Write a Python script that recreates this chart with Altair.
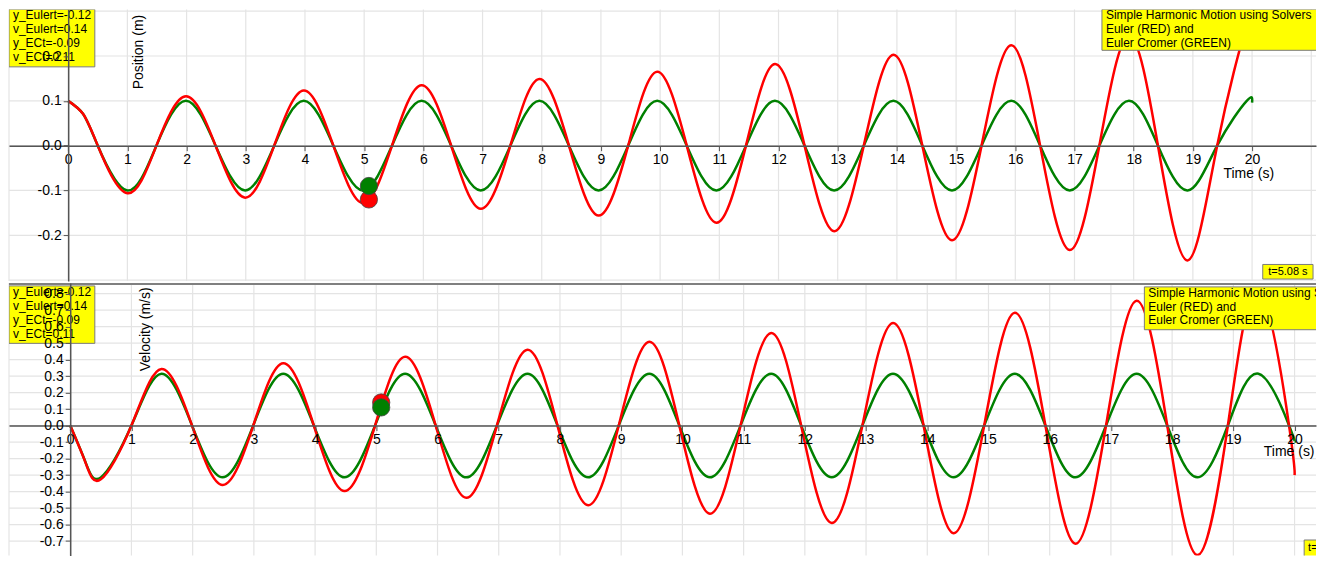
import altair as alt
import pandas as pd

# ---------------- data ----------------
# time nodes (s): extrema / zero crossings of the curves (plus one early point)
t_nodes = [0.00, 0.25, 0.50, 1.00, 1.49, 1.99, 2.49, 2.99, 3.48, 3.98, 4.48,
           4.98, 5.47, 5.97, 6.47, 6.97, 7.47, 7.96, 8.46, 8.96, 9.46,
           9.95, 10.45, 10.95, 11.45, 11.94, 12.44, 12.94, 13.44, 13.94, 14.43,
           14.93, 15.43, 15.93, 16.42, 16.92, 17.42, 17.92, 18.41, 18.91, 19.41,
           19.91, 20.00]

# position (m)
y_ec = [0.100, 0.071, 0.0, -0.100, 0.0, 0.100, 0.0, -0.100, 0.0, 0.100, 0.0,
        -0.100, 0.0, 0.100, 0.0, -0.100, 0.0, 0.100, 0.0, -0.100, 0.0,
        0.100, 0.0, -0.100, 0.0, 0.100, 0.0, -0.100, 0.0, 0.100, 0.0,
        -0.100, 0.0, 0.100, 0.0, -0.100, 0.0, 0.100, 0.0, -0.100, 0.0,
        0.100, 0.096]
y_eu = [0.100, 0.071, 0.0, -0.106, 0.0, 0.110, 0.0, -0.116, 0.0, 0.123, 0.0,
        -0.128, 0.0, 0.135, 0.0, -0.141, 0.0, 0.149, 0.0, -0.156, 0.0,
        0.165, 0.0, -0.172, 0.0, 0.182, 0.0, -0.191, 0.0, 0.203, 0.0,
        -0.211, 0.0, 0.224, 0.0, -0.233, 0.0, 0.245, 0.0, -0.256, 0.0,
        0.268, 0.262]

# velocity (m/s)
v_ec = [0.0, -0.222, -0.314, 0.0, 0.314, 0.0, -0.314, 0.0, 0.314, 0.0, -0.314,
        0.0, 0.314, 0.0, -0.314, 0.0, 0.314, 0.0, -0.314, 0.0, 0.314,
        0.0, -0.314, 0.0, 0.314, 0.0, -0.314, 0.0, 0.314, 0.0, -0.314,
        0.0, 0.314, 0.0, -0.314, 0.0, 0.314, 0.0, -0.314, 0.0, 0.314,
        0.0, -0.10]
v_eu = [0.0, -0.225, -0.326, 0.0, 0.343, 0.0, -0.360, 0.0, 0.378, 0.0, -0.397,
        0.0, 0.417, 0.0, -0.438, 0.0, 0.460, 0.0, -0.483, 0.0, 0.508,
        0.0, -0.534, 0.0, 0.561, 0.0, -0.590, 0.0, 0.621, 0.0, -0.652,
        0.0, 0.683, 0.0, -0.716, 0.0, 0.757, 0.0, -0.785, 0.0, 0.820,
        0.0, -0.30]

# current state markers at t = 5.08 s
dot_t = [5.08, 5.08]
dot_series = ["Euler", "Euler Cromer"]
dot_pos = [-0.12, -0.09]
dot_vel = [0.14, 0.11]

# texts
info_lines = ["y_Eulert=-0.12", "v_Eulert=0.14", "y_ECt=-0.09", "v_ECt=0.11"]
title_lines = ["Simple Harmonic Motion using Solvers", "Euler (RED) and", "Euler Cromer (GREEN)"]
time_label = "t=5.08 s"

# ticks
x_ticks_top = list(range(-1, 22))
x_ticks_bot = list(range(-1, 21))
x_labels = list(range(0, 21))
y_grid_top = [-0.3, -0.2, -0.1, 0.0, 0.1, 0.2, 0.3]
y_labels_top = [-0.2, -0.1, 0.0, 0.1, 0.2]
y_grid_bot = [-0.7, -0.6, -0.5, -0.4, -0.3, -0.2, -0.1, 0.0, 0.1, 0.2, 0.3, 0.4, 0.5, 0.6, 0.7, 0.8]
y_labels_bot = y_grid_bot

# ---------------- layout ----------------
W = 1309
H1, H2 = 272, 273
SX = W / 1325
SY1 = H1 / 279
SY2 = H2 / 280
FONT = "Liberation Sans"
RED, GREEN = "#ff0000", "#008000"
ONE = pd.DataFrame({"a": [0]})
LABEL_EXPR = "replace(format(datum.value, '.1f'), '\u2212', '-')"


def box(x0, x1, y0, y1):
    return alt.Chart(ONE).mark_rect(fill="#ffff00", stroke="#7a7a7a", strokeWidth=1, clip=True).encode(
        x=alt.value(x0), x2=alt.value(x1), y=alt.value(y0), y2=alt.value(y1))


def label(lines, x, y, align="left", baseline="top", size=12, lh=13.8):
    return alt.Chart(ONE).mark_text(text=lines, align=align, baseline=baseline, fontSize=size,
                                    lineHeight=lh, font=FONT, color="black", clip=True).encode(
        x=alt.value(x), y=alt.value(y))


def panel(values_ec, values_eu, dots_vals, xdom, ydom, H, sy, ref_top, xgrid, ygrid, ylabels,
          ytitle, ytitle_ref_x, ytitle_ref_y, xtitle_ref_right, xtitle_ref_y, zero_ref_y):
    xs = alt.Scale(domain=xdom, nice=False, zero=False)
    ys = alt.Scale(domain=ydom, nice=False, zero=False)
    x0px = (0 - xdom[0]) / (xdom[1] - xdom[0]) * W
    y0px = (ydom[1] - 0) / (ydom[1] - ydom[0]) * H

    xaxis = alt.Axis(values=x_labels, orient="bottom", offset=-(H - y0px), grid=False,
                     title="Time (s)", titleX=xtitle_ref_right * SX, titleY=(xtitle_ref_y - zero_ref_y) * sy,
                     titleAlign="right", titleBaseline="middle", titleAngle=0, zindex=1, labelFlush=False)
    yaxis = alt.Axis(values=ylabels, orient="left", offset=-x0px, grid=False, labelExpr=LABEL_EXPR,
                     title=ytitle, titleX=ytitle_ref_x * SX - x0px, titleY=(ytitle_ref_y - ref_top) * sy,
                     titleAngle=270, titleAlign="right", titleBaseline="middle", zindex=1)

    gx = alt.Chart(pd.DataFrame({"t": xgrid})).mark_rule(color="#e4e4e4", strokeWidth=1.2).encode(
        x=alt.X("t:Q", scale=xs, axis=xaxis))
    gy = alt.Chart(pd.DataFrame({"v": ygrid})).mark_rule(color="#e4e4e4", strokeWidth=1.2).encode(
        y=alt.Y("v:Q", scale=ys, axis=yaxis))

    green = alt.Chart(pd.DataFrame({"t": t_nodes, "v": values_ec})).mark_line(
        color=GREEN, strokeWidth=2.5, interpolate="natural", clip=True).encode(
        x=alt.X("t:Q", scale=xs, axis=xaxis), y=alt.Y("v:Q", scale=ys, axis=yaxis))
    red = alt.Chart(pd.DataFrame({"t": t_nodes, "v": values_eu})).mark_line(
        color=RED, strokeWidth=2.5, interpolate="natural", clip=True).encode(
        x=alt.X("t:Q", scale=xs, axis=xaxis), y=alt.Y("v:Q", scale=ys, axis=yaxis))
    dots = alt.Chart(pd.DataFrame({"t": dot_t, "v": dots_vals, "s": dot_series})).mark_circle(
        size=300, opacity=1, stroke="#444", strokeWidth=0.8).encode(
        x=alt.X("t:Q", scale=xs, axis=xaxis), y=alt.Y("v:Q", scale=ys, axis=yaxis),
        color=alt.Color("s:N", scale=alt.Scale(domain=["Euler", "Euler Cromer"], range=[RED, GREEN]),
                        legend=None))
    return [gx, gy, green, red, dots]


top_layers = panel(y_ec, y_eu, dot_pos, [-1, 21.08], [-0.302, 0.304], H1, SY1, 0,
                   x_ticks_top, y_grid_top, y_labels_top, "Position (m)", 131, 5, 1282, 169, 140)
top_layers += [
    box(0, 87 * SX, 0, 59 * SY1),
    label(info_lines, 4 * SX, 1 * SY1),
    box(1108 * SX, W + 5, 0, 42 * SY1),
    label(title_lines, 1112 * SX, 1 * SY1),
    box(1271 * SX, 1322 * SX, 262 * SY1, 277 * SY1),
    label(time_label, 1296.5 * SX, 269.5 * SY1, align="center", baseline="middle", size=11),
]
top = alt.layer(*top_layers).properties(width=W, height=H1)

bot_layers = panel(v_ec, v_eu, dot_vel, [-1, 20.35], [-0.788, 0.864], H2, SY2, 281,
                   x_ticks_bot, y_grid_bot, y_labels_bot, "Velocity (m/s)", 138, 285, 1323, 454, 427.5)
bot_layers += [
    box(0, 87 * SX, 3 * SY2, 62 * SY2),
    label(info_lines, 4 * SX, 4.5 * SY2),
    box(1151 * SX, W + 5, 4 * SY2, 48 * SY2),
    label(title_lines, 1155 * SX, 5 * SY2),
    box(1313 * SX, W + 5, 264 * SY2, H2 + 5),
    label(time_label, 1317 * SX, 272 * SY2, baseline="middle", size=11),
    alt.Chart(ONE).mark_rule(color="#808080", strokeWidth=2).encode(y=alt.value(1)),
]
bot = alt.layer(*bot_layers).properties(width=W, height=H2)

chart = alt.vconcat(top, bot, spacing=0).properties(padding=0).configure_view(stroke=None).configure_axis(
    labelFont=FONT, labelFontSize=14, labelColor="black", titleFont=FONT, titleFontSize=14,
    titleFontWeight="normal", titleColor="black", domainColor="#555555", domainWidth=1.5,
    tickColor="#555555", tickSize=5, tickWidth=1, labelPadding=2)

chart.save("out.html", embed_options={"renderer": "svg", "actions": False})
